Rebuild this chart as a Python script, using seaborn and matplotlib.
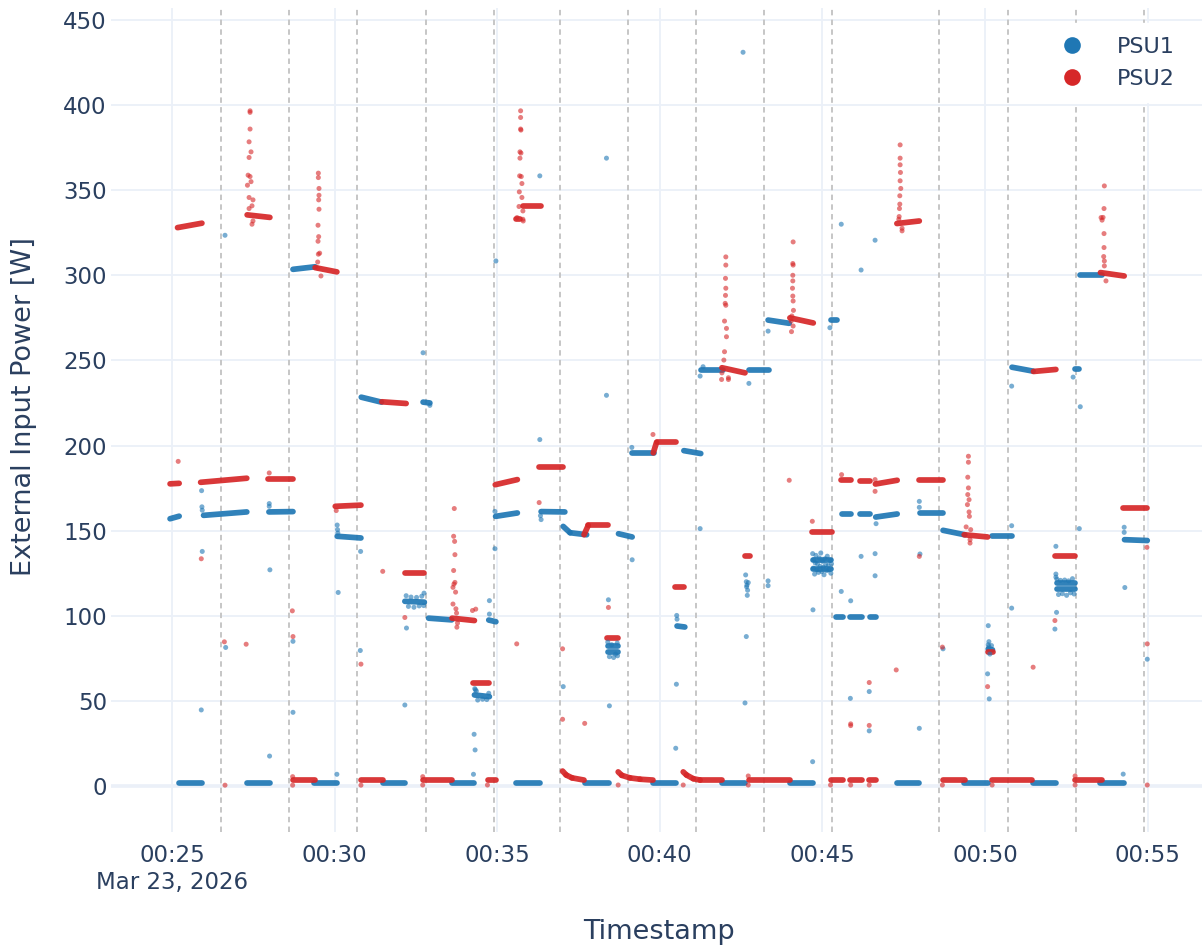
import numpy as np
import pandas as pd
import matplotlib
matplotlib.use("Agg")
import matplotlib.pyplot as plt
import matplotlib.dates as mdates
from matplotlib.lines import Line2D
import seaborn as sns

DAY = pd.Timestamp("2026-03-23")

# all times are minutes after midnight
tick_minutes = [25, 30, 35, 40, 45, 50, 55]
tick_labels = ["00:25\nMar 23, 2026", "00:30", "00:35", "00:40", "00:45", "00:50", "00:55"]
event_minutes = [26.51, 28.60, 30.69, 32.80, 34.89, 36.92, 39.02, 41.11, 43.21, 45.30,
                 48.59, 50.70, 52.79, 54.88]

# steady stretches: start, end, power at start, power at end
psu1_start = [24.94, 25.20, 25.97, 27.30, 27.98, 28.72, 29.36, 30.08, 30.82, 31.48, 32.16, 32.72,
              32.89, 33.60, 34.30, 34.74, 34.95, 35.58, 36.35, 37.03, 37.24, 37.70, 38.40, 38.42,
              38.73, 39.16, 39.80, 40.53, 40.74, 41.26, 41.92, 42.74, 43.33, 43.99, 44.72, 44.72,
              45.25, 45.43, 45.59, 45.85, 46.17, 46.45, 46.64, 47.29, 48.01, 48.71, 49.36, 50.10,
              50.22, 50.83, 51.47, 52.20, 52.20, 52.77, 52.91, 53.55, 54.29]
psu1_end = [25.22, 25.92, 27.30, 28.01, 28.72, 29.40, 30.06, 30.81, 31.44, 32.16, 32.76, 32.93,
            33.60, 34.30, 34.76, 34.96, 35.62, 36.31, 37.08, 37.24, 37.75, 38.45, 38.70, 38.70,
            39.15, 39.82, 40.51, 40.77, 41.26, 41.93, 42.62, 43.37, 43.98, 44.72, 45.27, 45.27,
            45.46, 45.62, 45.87, 46.21, 46.46, 46.65, 47.30, 47.98, 48.71, 49.38, 50.08, 50.23,
            50.82, 51.48, 52.18, 52.76, 52.76, 52.89, 53.59, 54.28, 54.99]
psu1_from = [157.0, 1.5, 159.0, 1.5, 161.0, 303.5, 1.5, 146.7, 228.4, 1.5, 108.5, 225.5,
             98.6, 1.5, 53.5, 97.5, 158.4, 1.5, 161.2, 152.5, 148.8, 1.5, 82.0, 78.5,
             148.2, 195.7, 1.5, 94.0, 197.0, 244.3, 1.5, 244.1, 273.7, 1.5, 127.5, 132.5,
             273.7, 99.0, 159.8, 99.0, 159.8, 99.0, 158.0, 1.5, 160.4, 150.2, 1.5, 80.5,
             146.7, 246.0, 1.5, 119.0, 115.5, 244.7, 300.2, 1.5, 144.7]
psu1_to = [158.5, 1.5, 161.0, 1.5, 161.2, 305.0, 1.5, 145.7, 225.5, 1.5, 108.0, 225.0,
           97.6, 1.5, 52.5, 96.5, 160.4, 1.5, 161.0, 148.8, 147.6, 1.5, 82.0, 78.5,
           146.3, 195.7, 1.5, 93.4, 195.3, 244.3, 1.5, 244.1, 271.8, 1.5, 127.5, 132.5,
           273.7, 99.0, 159.8, 99.0, 159.8, 99.0, 159.8, 1.5, 160.4, 147.6, 1.5, 80.0,
           146.7, 243.7, 1.5, 119.0, 115.5, 244.7, 300.2, 1.5, 144.2]

psu2_start = [24.94, 25.17, 25.88, 27.31, 27.96, 28.71, 29.40, 30.02, 30.81, 31.45, 32.17, 32.72,
              33.61, 34.26, 34.71, 34.94, 35.59, 35.80, 36.30, 37.01, 37.12, 37.30, 37.67, 37.80,
              38.38, 38.72, 38.83, 39.08, 39.39, 39.80, 39.90, 40.46, 40.72, 40.82, 41.03, 41.24,
              41.91, 42.62, 42.73, 44.00, 44.68, 45.25, 45.58, 45.84, 46.17, 46.42, 46.63, 47.29,
              47.96, 48.70, 49.36, 50.09, 50.21, 51.49, 52.16, 52.78, 53.55, 54.24]
psu2_end = [25.22, 25.92, 27.30, 28.01, 28.72, 29.40, 30.07, 30.81, 31.48, 32.20, 32.76, 33.60,
            34.30, 34.76, 34.96, 35.62, 35.70, 36.35, 37.03, 37.12, 37.30, 37.67, 37.80, 38.42,
            38.72, 38.83, 39.08, 39.39, 39.79, 39.90, 40.51, 40.75, 40.82, 41.03, 41.24, 41.90,
            42.62, 42.77, 44.00, 44.72, 45.29, 45.62, 45.87, 46.21, 46.46, 46.65, 47.30, 47.98,
            48.71, 49.38, 50.08, 50.25, 51.46, 52.18, 52.77, 53.59, 54.28, 54.99]
psu2_from = [177.5, 328.0, 178.4, 335.5, 180.6, 3.5, 304.5, 164.3, 3.5, 225.7, 125.1, 3.5,
             98.6, 60.4, 3.5, 177.0, 333.0, 340.8, 187.5, 8.8, 6.5, 4.8, 147.6, 153.1,
             86.9, 8.3, 6.3, 4.8, 4.0, 195.7, 201.9, 117.0, 8.3, 6.5, 4.3, 3.5,
             245.7, 134.9, 3.5, 275.0, 149.2, 3.5, 180.0, 3.5, 179.4, 3.5, 177.4, 330.4,
             179.6, 3.5, 147.6, 79.0, 3.5, 243.5, 134.9, 3.5, 301.6, 163.3]
psu2_to = [177.8, 330.6, 180.8, 334.0, 180.6, 3.5, 302.0, 165.0, 3.5, 224.7, 125.1, 3.5,
           97.2, 60.4, 3.5, 180.0, 333.0, 340.8, 187.5, 6.5, 4.8, 3.5, 153.1, 153.1,
           86.9, 6.3, 4.8, 4.0, 3.5, 201.9, 201.9, 117.0, 6.5, 4.3, 3.5, 3.5,
           242.7, 134.9, 3.5, 272.0, 149.2, 3.5, 180.0, 3.5, 179.4, 3.5, 179.6, 331.9,
           179.6, 3.5, 146.3, 79.0, 3.5, 244.7, 134.9, 3.5, 299.6, 163.3]

# single readings (outliers, noisy clusters)
psu1_pts_t = [25.90, 25.91, 25.92, 25.93, 25.93, 26.63, 26.65, 27.99, 27.99, 28.00, 28.01, 28.72,
              28.72, 30.07, 30.08, 30.09, 30.10, 30.11, 30.79, 30.80, 32.16, 32.21, 32.72, 32.75,
              32.93, 34.27, 34.29, 34.32, 34.76, 34.76, 34.93, 34.93, 34.96, 36.31, 36.31, 36.33,
              36.35, 37.03, 38.36, 38.36, 38.42, 38.45, 39.14, 39.15, 40.49, 40.51, 40.52, 40.53,
              41.24, 41.24, 41.33, 42.56, 42.62, 42.66, 42.74, 42.64, 42.66, 42.68, 42.67, 42.70,
              42.69, 42.72, 43.33, 43.33, 43.33, 44.70, 44.71, 45.23, 45.58, 45.58, 45.86, 45.87,
              46.19, 46.19, 46.44, 46.44, 46.62, 46.62, 46.62, 46.65, 47.98, 47.98, 47.98, 48.00,
              48.71, 50.08, 50.10, 50.12, 50.12, 50.13, 50.82, 50.82, 50.82, 52.15, 52.18, 52.18,
              52.18, 52.20, 52.71, 52.90, 52.93, 54.25, 54.28, 54.28, 54.30, 54.99,
              32.20, 32.27, 32.35, 32.44, 32.52, 32.60, 32.68, 32.74,
              34.31, 34.33, 34.36, 34.40, 34.55, 34.68, 34.74,
              38.40, 38.45, 38.52, 38.58, 38.64, 38.69, 38.70,
              44.70, 44.72, 44.74, 44.76, 44.78, 44.80, 44.83, 44.85, 44.88, 44.90, 44.93, 44.95,
              44.98, 45.00, 45.03, 45.05, 45.08, 45.10, 45.13, 45.15, 45.18, 45.20, 45.23, 45.26,
              45.28, 50.10, 50.15, 50.20,
              52.21, 52.26, 52.32, 52.38, 52.45, 52.51, 52.57, 52.63, 52.69, 52.74]
psu1_pts_v = [44.7, 173.5, 164.0, 162.0, 137.8, 323.5, 81.4, 165.9, 164.3, 17.6, 127.0, 85.0,
              43.3, 6.9, 153.3, 150.6, 148.6, 113.7, 79.6, 137.8, 47.6, 92.8, 254.5, 113.3,
              223.6, 6.9, 30.4, 21.2, 108.9, 101.0, 161.3, 139.4, 308.4, 358.4, 203.5, 158.8,
              156.5, 58.4, 368.8, 229.5, 109.4, 47.1, 198.9, 132.9, 22.2, 59.8, 100.2, 98.0,
              151.2, 240.8, 246.3, 431.0, 48.8, 87.8, 236.5, 124.0, 120.0, 118.0, 117.0, 115.0,
              112.0, 119.5, 117.7, 120.5, 267.2, 14.3, 103.5, 269.2, 330.0, 114.3, 51.5, 108.8,
              134.9, 303.1, 55.5, 32.4, 136.5, 123.5, 320.6, 154.1, 33.9, 167.2, 163.7, 136.3,
              80.6, 65.9, 94.2, 84.8, 81.9, 51.2, 152.9, 104.5, 234.9, 92.2, 140.8, 124.5,
              122.7, 102.0, 240.2, 151.2, 222.8, 7.0, 152.0, 149.0, 116.6, 74.5,
              111.8, 105.5, 111.0, 105.0, 110.8, 105.8, 111.5, 106.0,
              57.2, 56.5, 55.8, 50.5, 51.0, 50.8, 54.5,
              84.5, 76.0, 83.0, 75.5, 77.5, 84.0, 76.5,
              136.5, 128.0, 133.0, 124.5, 131.0, 135.5, 127.0, 130.5, 125.5, 134.0, 129.0, 136.9,
              126.0, 132.0, 128.5, 124.1, 133.5, 130.0, 126.5, 135.0, 129.5, 127.0, 132.5, 125.0,
              130.5, 83.0, 77.5, 82.5,
              121.5, 112.5, 120.8, 113.0, 121.0, 112.0, 120.5, 113.5, 121.8, 112.8]

psu2_pts_t = [25.19, 25.90, 26.61, 26.63, 27.28,
              27.40, 27.40, 27.40, 27.37, 27.43, 27.37, 27.34, 27.40, 27.43, 27.32, 27.37, 27.49,
              27.46, 27.37, 27.49, 27.46,
              27.99, 28.70, 28.72, 28.71, 28.71,
              29.50, 29.50, 29.52, 29.52, 29.51, 29.52, 29.49, 29.51, 29.49, 29.54, 29.50, 29.48,
              29.48, 29.58,
              30.05, 30.81, 30.81, 31.48, 32.16, 32.71, 32.71,
              33.68, 33.66, 33.69, 33.70, 33.66, 33.70, 33.67, 33.64, 33.72, 33.64, 33.73, 33.75,
              33.78, 33.76,
              34.24, 34.34, 34.70,
              35.72, 35.72, 35.72, 35.73, 35.70, 35.73, 35.70, 35.69, 35.74, 35.76, 35.68, 35.76,
              35.67, 35.79, 35.61, 35.79, 35.80,
              35.60, 36.29, 37.01, 37.01, 37.69, 38.42, 38.72, 39.79, 40.72,
              42.03, 42.03, 42.02, 42.03, 42.02, 42.01, 42.03, 41.99, 42.05, 42.05, 41.99, 41.97,
              41.91, 42.11, 41.90, 42.11,
              42.72, 42.72, 43.98,
              44.10, 44.09, 44.10, 44.09, 44.09, 44.08, 44.09, 44.10, 44.11, 44.06, 44.04, 44.10,
              44.05,
              44.69, 45.25, 45.59, 45.87, 45.87, 45.87, 46.44, 46.44, 46.44, 46.62, 46.62, 47.27,
              47.39, 47.39, 47.39, 47.40, 47.39, 47.41, 47.38, 47.38, 47.37, 47.36, 47.35, 47.45,
              47.45,
              47.98, 48.69, 48.69,
              49.49, 49.49, 49.47, 49.49, 49.47, 49.51, 49.46, 49.51, 49.52, 49.42, 49.56, 49.54,
              49.54,
              50.08, 50.22, 51.48, 52.15, 52.77, 52.77,
              53.67, 53.66, 53.57, 53.63, 53.60, 53.66, 53.66, 53.65, 53.67, 53.67, 53.72,
              54.98, 54.99, 54.99]
psu2_pts_v = [190.7, 133.5, 84.7, 0.5, 83.3,
              396.6, 395.7, 385.9, 378.4, 372.5, 369.2, 358.8, 358.0, 355.0, 352.9, 345.7, 344.3,
              340.8, 339.2, 331.9, 330.0,
              183.9, 102.9, 87.8, 0.5, 5.5,
              360.0, 357.4, 351.0, 347.0, 344.3, 338.8, 329.4, 322.7, 320.0, 313.0, 312.4, 307.8,
              304.3, 299.6,
              161.8, 71.6, 0.5, 126.1, 99.0, 5.5, 0.6,
              163.0, 146.7, 143.7, 135.9, 126.6, 119.6, 118.6, 116.7, 113.9, 106.9, 104.1, 101.6,
              95.7, 93.3,
              103.1, 103.9, 0.6,
              396.6, 392.7, 385.9, 385.3, 372.5, 371.8, 368.8, 358.4, 358.0, 353.9, 349.0, 345.7,
              340.4, 337.8, 333.9, 332.9, 331.9,
              83.5, 166.5, 80.6, 39.2, 36.8, 104.9, 0.6, 206.5, 0.6,
              310.8, 306.0, 298.2, 292.4, 288.2, 283.5, 282.4, 273.1, 268.8, 263.9, 255.1, 250.2,
              242.7, 239.8, 238.8, 238.8,
              5.9, 0.6, 179.6,
              319.6, 306.9, 306.0, 300.0, 296.7, 292.4, 287.8, 284.9, 279.4, 276.1, 273.1, 270.2,
              266.9,
              155.5, 0.6, 182.9, 0.6, 36.5, 35.5, 60.8, 35.6, 0.6, 180.0, 173.1, 68.2,
              376.6, 368.8, 364.9, 360.4, 355.5, 351.0, 346.7, 341.8, 339.2, 334.5, 332.9, 327.6,
              326.1,
              134.9, 81.6, 0.6,
              193.7, 190.2, 181.4, 175.1, 171.2, 168.2, 165.3, 161.0, 158.4, 152.2, 150.6, 144.7,
              142.7,
              58.4, 0.6, 69.8, 97.2, 5.9, 0.6,
              352.5, 339.2, 333.9, 334.0, 332.4, 324.5, 316.3, 311.0, 308.4, 305.5, 296.7,
              140.2, 83.5, 0.6]

colors = {"PSU1": "#1f77b4", "PSU2": "#d62728"}
TEXT = "#2a3f5f"
GRID = "#EBF0F8"


def to_time(minutes):
    return DAY + pd.to_timedelta(np.asarray(minutes, dtype=float) * 60, unit="s")


def segments(start, end, v0, v1):
    n = len(start)
    return pd.DataFrame({
        "time": to_time(list(start) + list(end)),
        "power": list(v0) + list(v1),
        "seg": list(range(n)) * 2,
    })


seg1 = segments(psu1_start, psu1_end, psu1_from, psu1_to)
seg2 = segments(psu2_start, psu2_end, psu2_from, psu2_to)
pts = pd.DataFrame({
    "time": to_time(psu1_pts_t + psu2_pts_t),
    "power": psu1_pts_v + psu2_pts_v,
    "psu": ["PSU1"] * len(psu1_pts_t) + ["PSU2"] * len(psu2_pts_t),
})

sns.set_style("white")
plt.rcParams["font.family"] = ["DejaVu Sans"]

fig = plt.figure(figsize=(12.02, 9.52), dpi=100)
ax = fig.add_axes([111 / 1202, 1 - 832 / 952, 1091 / 1202, 824 / 952])

for m in event_minutes:
    ax.axvline(to_time([m])[0], color="#c6c6c6", lw=1.4, ls=(0, (2.8, 2.2)), zorder=1)

sns.lineplot(data=seg1, x="time", y="power", units="seg", estimator=None, color=colors["PSU1"],
             lw=4.1, alpha=0.92, solid_capstyle="round", ax=ax, zorder=3)
sns.lineplot(data=seg2, x="time", y="power", units="seg", estimator=None, color=colors["PSU2"],
             lw=4.1, alpha=0.92, solid_capstyle="round", ax=ax, zorder=4)
sns.scatterplot(data=pts, x="time", y="power", hue="psu", palette=colors, s=13, alpha=0.6,
                linewidth=0, legend=False, ax=ax, zorder=5)

ax.set_xlim(to_time([23.124, 56.673]))
ax.set_ylim(-27, 457)
ax.set_yticks(range(0, 451, 50))
ax.set_xticks(mdates.date2num(to_time(tick_minutes)))
ax.set_xticklabels(tick_labels)

ax.grid(True, color=GRID, lw=1.3)
ax.axhline(0, color=GRID, lw=2.6, zorder=0.5)
ax.set_axisbelow(True)
for s in ax.spines.values():
    s.set_visible(False)
ax.tick_params(axis="both", length=0, labelsize=16.5, labelcolor=TEXT)
ax.tick_params(axis="x", pad=9)
ax.tick_params(axis="y", pad=3)

ax.set_xlabel("Timestamp", fontsize=19.5, color=TEXT)
ax.set_ylabel("External Input Power [W]", fontsize=19.5, color=TEXT)
ax.xaxis.set_label_coords(0.502, -0.1214)
ax.xaxis.label.set_verticalalignment("center")
ax.yaxis.set_label_coords(-0.0800, 0.516)
ax.yaxis.label.set_verticalalignment("center")

handles = [Line2D([], [], ls="none", marker="o", markersize=12, markeredgewidth=0,
                  color=colors[k]) for k in colors]
leg = ax.legend(handles, list(colors), loc="upper right", bbox_to_anchor=(0.997, 0.995),
                frameon=True, facecolor="white", edgecolor="white", framealpha=1,
                fontsize=16, handlelength=1.0, handletextpad=1.5, labelspacing=0.55,
                borderpad=0.6)
for t in leg.get_texts():
    t.set_color(TEXT)

fig.savefig("out.png", dpi=100)
